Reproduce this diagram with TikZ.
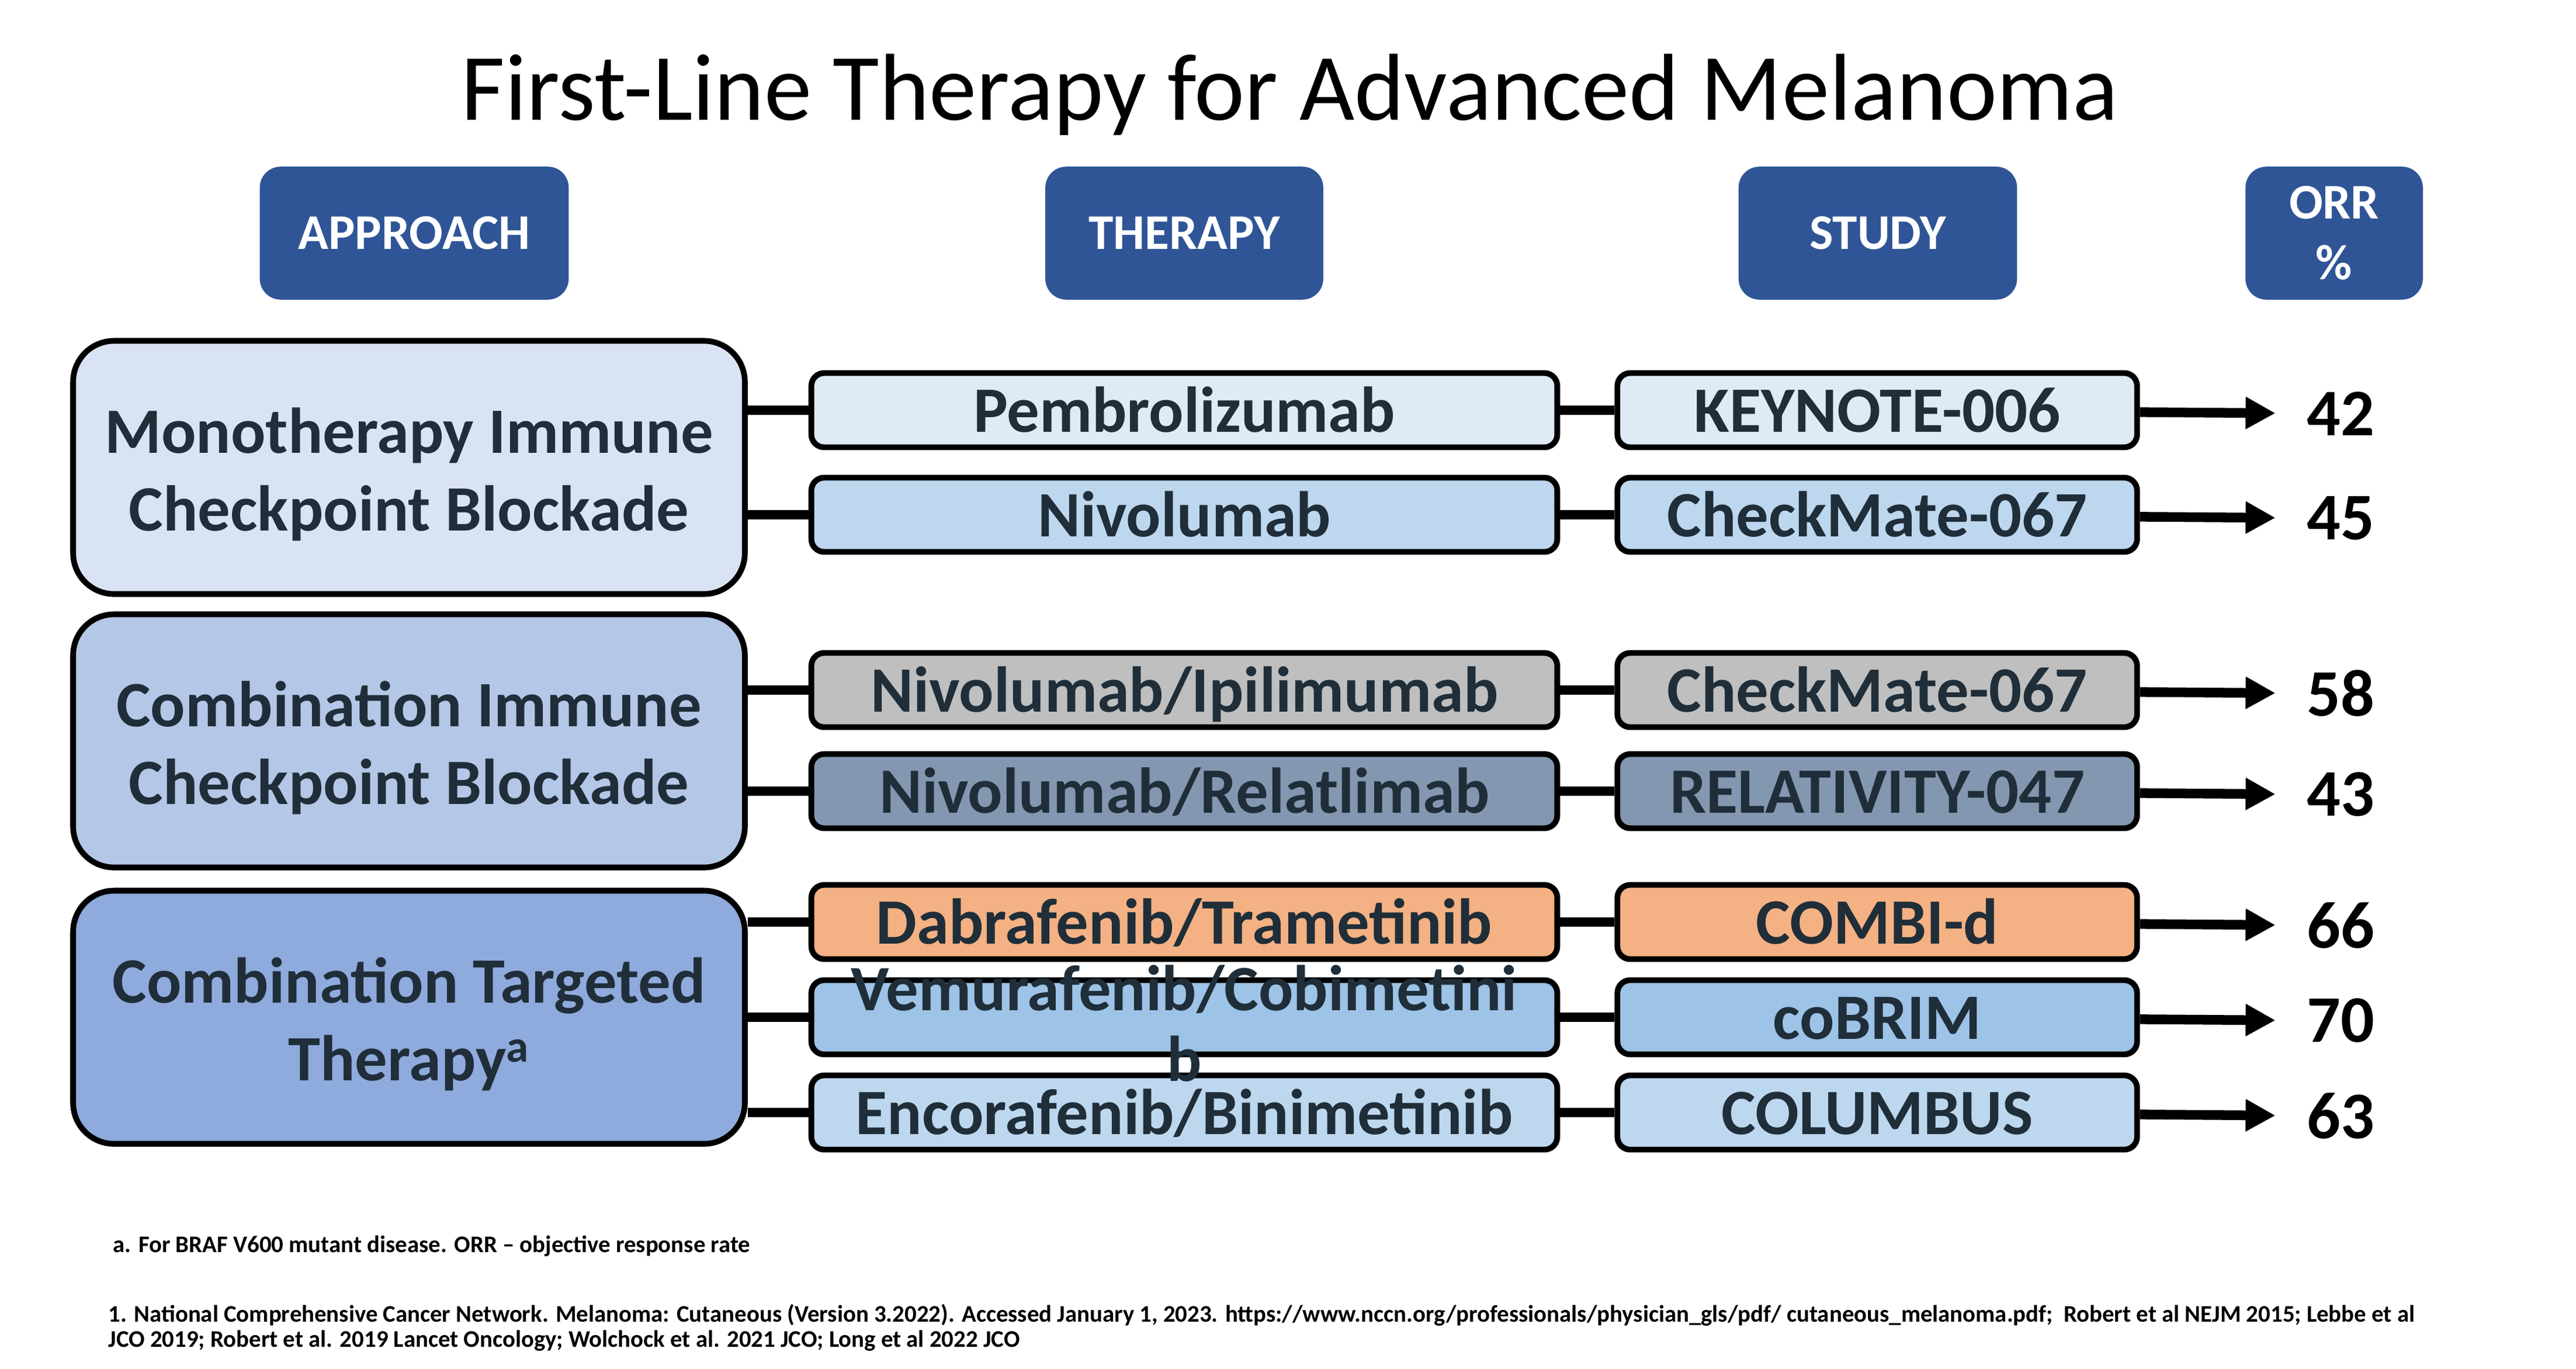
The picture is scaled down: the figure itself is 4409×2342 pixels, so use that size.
\documentclass[tikz,border=0pt]{standalone}
\usepackage{fontspec}
\setmainfont{Carlito}
\usetikzlibrary{arrows.meta}
\definecolor{headblue}{RGB}{47,85,151}
\definecolor{textdark}{RGB}{31,46,57}
\definecolor{monocolor}{RGB}{218,227,243}
\definecolor{combocolor}{RGB}{180,199,231}
\definecolor{targetcolor}{RGB}{143,170,220}
\definecolor{pembrocolor}{RGB}{222,235,247}
\definecolor{nivocolor}{RGB}{189,215,238}
\definecolor{ipicolor}{RGB}{191,191,191}
\definecolor{relacolor}{RGB}{132,151,176}
\definecolor{dabracolor}{RGB}{244,177,131}
\definecolor{vemucolor}{RGB}{157,195,230}
\definecolor{encocolor}{RGB}{189,215,238}
\newcommand{\apstrut}{\rule{0pt}{28.8pt}}

\begin{document}
\begin{tikzpicture}[
    x=0.01cm, y=-0.01cm,
    head/.style={fill=headblue, draw=headblue, rounded corners=0.35cm, text=white, font=\fontsize{24.3}{29.6}\selectfont\bfseries, align=center, minimum height=2.26cm},
    approach/.style={draw=black, line width=2.8pt, rounded corners=0.7cm, minimum width=11.49cm, minimum height=4.33cm, text=textdark, font=\fontsize{31.5}{37.6}\selectfont\bfseries, align=center},
    drug/.style={draw=black, line width=2.8pt, rounded corners=0.22cm, minimum width=12.76cm, minimum height=1.27cm, text=textdark, font=\fontsize{31.5}{34.4}\selectfont\bfseries, text height=26.8pt, text depth=5.7pt, inner sep=0pt},
    trial/.style={drug, minimum width=8.89cm},
    orr/.style={font=\fontsize{32.4}{38}\selectfont\bfseries, inner sep=0pt},
    link/.style={line width=4.5pt},
    arrow/.style={line width=4.7pt, -{Triangle[length=0.51cm, width=0.52cm]}, shorten >=0.53cm},
    note/.style={font=\fontsize{11.6}{12.5}\selectfont\bfseries, inner sep=0pt, align=left}
]
    \useasboundingbox (0,0) rectangle (4409,2342);

    \node[font=\fontsize{46.3}{56}\selectfont, anchor=base, inner sep=0pt] (title) at (2208,205) {First-Line Therapy for Advanced Melanoma};

    \node[head, minimum width=5.27cm] (hApproach) at (709,399) {APPROACH};
    \node[head, minimum width=4.74cm] (hTherapy) at (2027,399) {THERAPY};
    \node[head, minimum width=4.75cm] (hStudy) at (3214,399) {STUDY};
    \node[head, minimum width=3.02cm] (hOrr) at (3995,399) {ORR\\\%};

    \node[approach, fill=monocolor] (mono) at (700,800) {\apstrut Monotherapy Immune\\Checkpoint Blockade};
    \node[approach, fill=combocolor] (combo) at (700,1268) {\apstrut Combination Immune\\Checkpoint Blockade};
    \node[approach, fill=targetcolor] (target) at (700,1741) {\apstrut Combination Targeted\\Therapy\textsuperscript{a}};

    \node[drug, fill=pembrocolor] (pembro) at (2027,702) {Pembrolizumab};
    \node[drug, fill=nivocolor] (nivo) at (2027,881) {Nivolumab};
    \node[drug, fill=ipicolor] (nivoipi) at (2027,1181) {Nivolumab/Ipilimumab};
    \node[drug, fill=relacolor] (nivorela) at (2027,1354) {Nivolumab/Relatlimab};
    \node[drug, fill=dabracolor] (dabra) at (2027,1578) {Dabrafenib/Trametinib};
    \node[drug, fill=vemucolor] (vemu) at (2027,1741) {};
    \node[drug, fill=encocolor] (enco) at (2027,1904) {Encorafenib/Binimetinib};
    \node[font=\fontsize{31.5}{34.4}\selectfont\bfseries, text=textdark, align=center, inner sep=0pt] (vemutext) at (2027,1751) {Vemurafenib/Cobimetini\\b};

    \node[trial, fill=pembrocolor] (keynote) at (3213,702) {KEYNOTE-006};
    \node[trial, fill=nivocolor] (cmA) at (3213,881) {CheckMate-067};
    \node[trial, fill=ipicolor] (cmB) at (3213,1181) {CheckMate-067};
    \node[trial, fill=relacolor] (relativity) at (3213,1354) {RELATIVITY-047};
    \node[trial, fill=dabracolor] (combid) at (3213,1578) {COMBI-d};
    \node[trial, fill=vemucolor] (cobrim) at (3213,1741) {coBRIM};
    \node[trial, fill=encocolor] (columbus) at (3213,1904) {COLUMBUS};

    \node[orr] (r42) at (4006,708) {42};
    \node[orr] (r45) at (4006,887) {45};
    \node[orr] (r58) at (4006,1187) {58};
    \node[orr] (r43) at (4006,1360) {43};
    \node[orr] (r66) at (4006,1584) {66};
    \node[orr] (r70) at (4006,1747) {70};
    \node[orr] (r63) at (4006,1910) {63};

    \draw[link] (pembro.west -| mono.east) -- (pembro.west);
    \draw[link] (nivo.west -| mono.east) -- (nivo.west);
    \draw[link] (nivoipi.west -| combo.east) -- (nivoipi.west);
    \draw[link] (nivorela.west -| combo.east) -- (nivorela.west);
    \draw[link] (dabra.west -| target.east) -- (dabra.west);
    \draw[link] (vemu.west -| target.east) -- (vemu.west);
    \draw[link] (enco.west -| target.east) -- (enco.west);

    \draw[link] (pembro) -- (keynote);
    \draw[link] (nivo) -- (cmA);
    \draw[link] (nivoipi) -- (cmB);
    \draw[link] (nivorela) -- (relativity);
    \draw[link] (dabra) -- (combid);
    \draw[link] (vemu) -- (cobrim);
    \draw[link] (enco) -- (columbus);

    \draw[arrow] (keynote) -- (r42);
    \draw[arrow] (cmA) -- (r45);
    \draw[arrow] (cmB) -- (r58);
    \draw[arrow] (relativity) -- (r43);
    \draw[arrow] (combid) -- (r66);
    \draw[arrow] (cobrim) -- (r70);
    \draw[arrow] (columbus) -- (r63);

    \node[note, anchor=base west] (footA) at (193,2143) {a. For BRAF V600 mutant disease. ORR – objective response rate};
    \node[note, anchor=north west] (refs) at (185,2231) {1. National Comprehensive Cancer Network. Melanoma: Cutaneous (Version 3.2022). Accessed January 1, 2023. https://www.nccn.org/professionals/physician\_gls/pdf/ cutaneous\_melanoma.pdf;\ \ Robert et al NEJM 2015; Lebbe et al\\JCO 2019; Robert et al. 2019 Lancet Oncology; Wolchock et al. 2021 JCO; Long et al 2022 JCO};
\end{tikzpicture}
\end{document}
